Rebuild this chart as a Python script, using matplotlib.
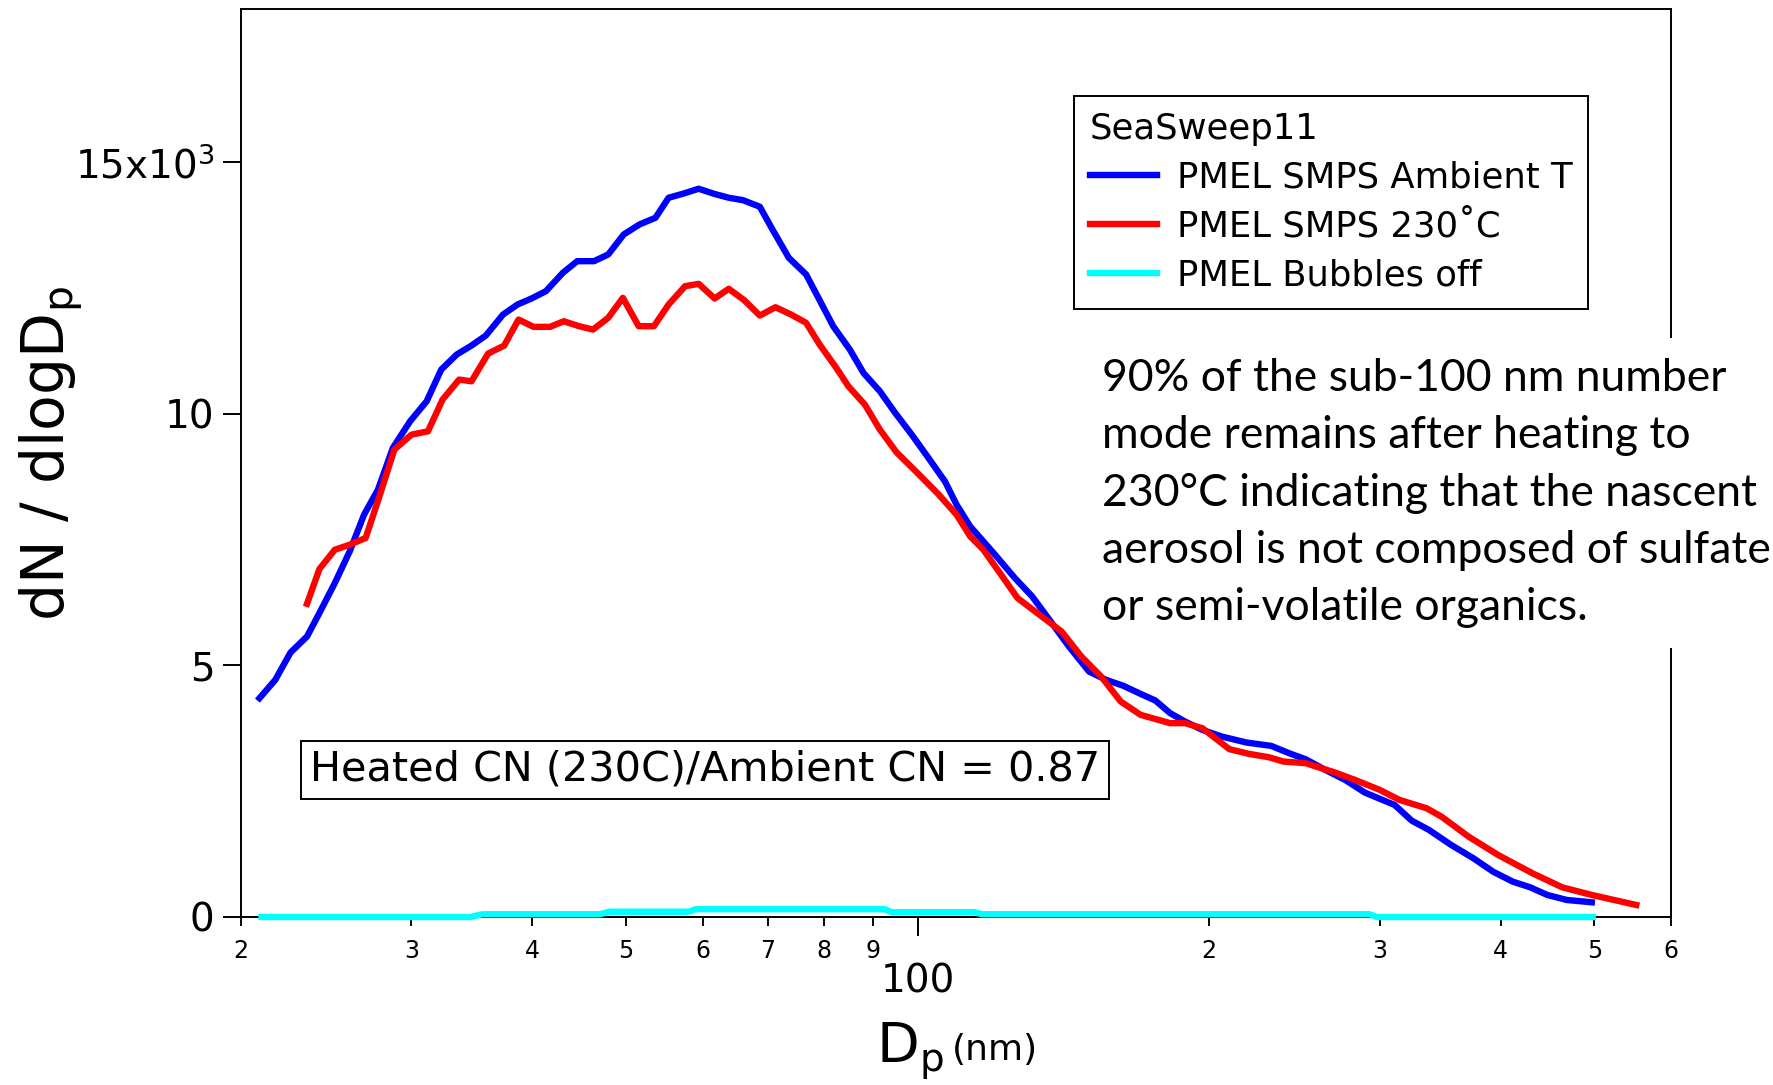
import matplotlib
matplotlib.use("Agg")
import matplotlib.pyplot as plt
from matplotlib.ticker import FixedLocator, FixedFormatter

plt.rcParams["font.family"] = ["DejaVu Sans"]

# Size distributions (Dp in nm, dN/dlogDp)
ambient_dp = [20.9, 21.7, 22.5, 23.4, 24.1, 25.0, 25.9, 26.8, 27.7, 28.7,
              29.9, 31.1, 32.2, 33.4, 34.6, 35.8, 37.3, 38.6, 39.9, 41.3,
              43.0, 44.5, 46.3, 47.9, 49.7, 51.6, 53.6, 55.3, 57.2, 59.4,
              61.6, 63.8, 66.0, 68.7, 70.7, 73.6, 76.7, 79.3, 81.8, 85.1,
              87.9, 91.4, 94.8, 98.6, 102.6, 106.7, 109.7, 113.3, 120.2, 126.0,
              131.3, 136.8, 143.3, 150.3, 156.5, 163.1, 169.9, 176.0, 182.3, 188.9,
              196.8, 206.2, 218.6, 231.8, 242.9, 251.6, 263.7, 276.4, 289.7, 310.9,
              323.8, 337.4, 355.7, 375.0, 393.0, 411.9, 429.1, 447.1, 468.5, 497.0]
ambient_n = [4350, 4715, 5258, 5576, 6042, 6639, 7267, 7997, 8495, 9324,
             9854, 10251, 10882, 11180, 11359, 11558, 11976, 12175, 12294, 12440,
             12806, 13037, 13037, 13170, 13568, 13767, 13900, 14298, 14377, 14477,
             14377, 14298, 14250, 14119, 13687, 13104, 12772, 12241, 11744, 11280,
             10816, 10451, 10020, 9589, 9125, 8660, 8196, 7765, 7202, 6738,
             6372, 5909, 5377, 4880, 4715, 4596, 4436, 4303, 4052, 3885,
             3720, 3587, 3468, 3402, 3243, 3137, 2924, 2725, 2473, 2228,
             1916, 1731, 1432, 1168, 901, 702, 591, 438, 338, 292]

heated_dp = [23.4, 24.1, 25.0, 25.9, 26.9, 27.8, 28.8, 30.0, 31.2, 32.3,
             33.6, 34.6, 36.0, 37.4, 38.7, 40.1, 41.7, 43.1, 44.7, 46.2,
             47.9, 49.6, 51.5, 53.4, 55.3, 57.5, 59.4, 61.7, 63.8, 66.2,
             68.7, 71.3, 74.0, 76.7, 79.2, 82.4, 84.8, 88.2, 91.4, 95.1,
             99.8, 105.0, 109.7, 113.3, 116.9, 121.6, 126.8, 133.6, 140.8, 147.6,
             154.7, 162.1, 169.9, 182.3, 188.9, 196.8, 209.9, 219.9, 230.4, 238.7,
             251.6, 270.0, 283.0, 300.1, 314.5, 335.5, 347.6, 370.7, 397.7, 431.6,
             463.1, 497.0, 514.8, 552.4]
heated_n = [6227, 6917, 7301, 7401, 7534, 8362, 9291, 9589, 9655, 10285,
            10683, 10649, 11200, 11359, 11877, 11731, 11731, 11843, 11744, 11678,
            11911, 12308, 11744, 11744, 12175, 12539, 12587, 12295, 12488, 12261,
            11956, 12122, 11976, 11811, 11379, 10916, 10550, 10186, 9688, 9237,
            8839, 8409, 7997, 7566, 7301, 6838, 6340, 6008, 5676, 5178,
            4781, 4283, 4019, 3853, 3853, 3754, 3336, 3243, 3177, 3090,
            3058, 2871, 2725, 2527, 2328, 2162, 1995, 1598, 1233, 869,
            591, 438, 372, 239]

off_dp = [21.0, 34.5, 35.5, 47.0, 48.0, 58.0, 59.0, 92.5, 94.0, 114.5,
          116.5, 293.0, 298.0, 498.0]
off_n = [0, 0, 55, 55, 105, 105, 155, 155, 95, 95, 55, 55, 0, 0]

series_labels = ["PMEL SMPS Ambient T", "PMEL SMPS 230˚C", "PMEL Bubbles off"]

x_minor_ticks = [20, 30, 40, 50, 60, 70, 80, 90, 200, 300, 400, 500, 600]
x_minor_labels = ["2", "3", "4", "5", "6", "7", "8", "9", "2", "3", "4", "5", "6"]
y_ticks = [0, 5000, 10000, 15000]
y_labels = ["0", "5", "10", "15x10$^3$"]

note = ("90% of the sub-100 nm number\n"
        "mode remains after heating to\n"
        "230°C indicating that the nascent\n"
        "aerosol is not composed of sulfate\n"
        "or semi-volatile organics.")

W, H = 1773, 1085
fig = plt.figure(figsize=(W / 100, H / 100), dpi=100)
ax = fig.add_axes([241 / W, 1 - 917 / H, 1430 / W, 908 / H])

ax.plot(ambient_dp, ambient_n, color="#0000ff", lw=4.6, label=series_labels[0],
        zorder=3, clip_on=False)
ax.plot(heated_dp, heated_n, color="#ff0000", lw=4.6, label=series_labels[1],
        zorder=4, clip_on=False)
ax.plot(off_dp, off_n, color="#00ffff", lw=4.6, label=series_labels[2],
        zorder=5, clip_on=False)

ax.set_xscale("log")
ax.set_xlim(20, 600)
ax.set_ylim(0, 18050)

ax.xaxis.set_major_locator(FixedLocator([100]))
ax.xaxis.set_major_formatter(FixedFormatter(["100"]))
ax.xaxis.set_minor_locator(FixedLocator(x_minor_ticks))
ax.xaxis.set_minor_formatter(FixedFormatter(x_minor_labels))
ax.set_yticks(y_ticks)
ax.set_yticklabels(y_labels)

ax.tick_params(axis="x", which="major", direction="out", length=13.5, width=1.4,
               labelsize=28, pad=19)
ax.tick_params(axis="x", which="minor", direction="out", length=6.5, width=1.4,
               labelsize=17, pad=9)
ax.tick_params(axis="y", direction="out", length=13, width=1.4, labelsize=28, pad=6)
for s in ax.spines.values():
    s.set_linewidth(1.4)

# axis titles
fig.text(52 / W, 1 - 454 / H, r"dN / dlogD$_\mathregular{p}$", rotation=90,
         fontsize=42, ha="center", va="center")
fig.text(876 / W, 1 - 1062 / H, r"D$_\mathregular{p}$", fontsize=40,
         ha="left", va="baseline")
fig.text(952 / W, 1 - 1060 / H, "(nm)", fontsize=26, ha="left", va="baseline")

leg = ax.legend(loc="upper left", bbox_to_anchor=((1074 - 241) / 1430, (917 - 96) / 908),
                borderaxespad=0, title="SeaSweep11", fontsize=25.5, title_fontsize=25.5,
                alignment="left", handlelength=1.9, handletextpad=0.55,
                labelspacing=0.42, borderpad=0.45, fancybox=False, framealpha=1,
                edgecolor="black")
leg.get_frame().set_linewidth(1.4)

ax.text((310 - 241) / 1430, (917 - 770) / 908, "Heated CN (230C)/Ambient CN = 0.87",
        transform=ax.transAxes, fontsize=29.8, ha="left", va="center",
        bbox=dict(boxstyle="square,pad=0.22", fc="white", ec="black", lw=1.4))

ax.text((1102 - 241) / 1430, (917 - 358) / 908, note, transform=ax.transAxes,
        fontsize=32, family=["Lato", "DejaVu Sans"], ha="left", va="top",
        linespacing=1.49, zorder=6,
        bbox=dict(boxstyle="square,pad=0.45", fc="white", ec="none"))

plt.savefig("out.png", dpi=100)
plt.close()
